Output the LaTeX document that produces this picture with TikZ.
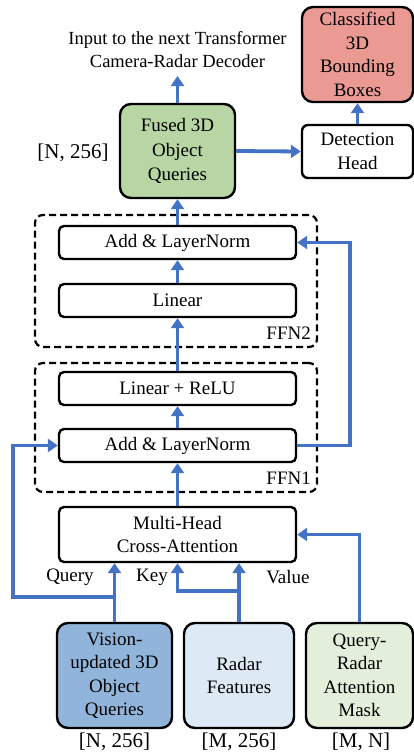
\documentclass[tikz,border=0pt]{standalone}
\usepackage{fontspec}
\setmainfont{Liberation Serif}
\usetikzlibrary{arrows.meta}
\definecolor{flowblue}{RGB}{68,114,196}
\definecolor{fusedgreen}{RGB}{184,214,164}
\definecolor{boxpink}{RGB}{234,154,147}
\definecolor{visionblue}{RGB}{145,181,218}
\definecolor{radarblue}{RGB}{221,233,245}
\definecolor{maskgreen}{RGB}{227,239,218}
\tikzset{
  txt/.style={font=\fontsize{19}{23.5}\selectfont, align=center, inner sep=0pt},
  dimtxt/.style={font=\fontsize{21}{24}\selectfont, inner sep=0pt},
  blockbox/.style={draw=black, line width=2.4pt, rounded corners=5pt, fill=white,
    txt, minimum width=237pt, minimum height=33pt},
  bigbox/.style={draw=black, line width=2.4pt, rounded corners=11pt,
    txt, minimum height=105pt},
  groupbox/.style={draw=black, line width=2.2pt, dash pattern=on 7pt off 4pt,
    rounded corners=8pt, inner sep=0pt},
  flow/.style={draw=flowblue, line width=3.8pt,
    -{Triangle[width=13pt,length=10pt]}},
  plainflow/.style={draw=flowblue, line width=3.8pt},
}
\begin{document}
\begin{tikzpicture}[x=1pt,y=-1pt]
\useasboundingbox (0,0) rectangle (414,753);

% dashed FFN groups
\node[groupbox, minimum width=282pt, minimum height=132pt] (ffn2) at (176,281) {};
\node[groupbox, minimum width=282pt, minimum height=129pt] (ffn1) at (176,427.5) {};
\node[txt, anchor=east] (ffn2lbl) at (311,333) {FFN2};
\node[txt, anchor=east] (ffn1lbl) at (311,478) {FFN1};

% decoder blocks
\node[blockbox] (addtop) at (177.5,242.5) {Add \& LayerNorm};
\node[blockbox] (linear) at (177.5,300.5) {Linear};
\node[blockbox] (relu)   at (177.5,388.5) {Linear + ReLU};
\node[blockbox] (addbot) at (177.5,445.5) {Add \& LayerNorm};
\node[blockbox, minimum height=55pt] (mhca) at (177.5,534.5) {Multi-Head\\Cross-Attention};

% output side
\node[bigbox, fill=fusedgreen, minimum width=115pt, minimum height=94pt,
  font=\fontsize{19}{24.5}\selectfont] (fused) at (177.5,151) {Fused 3D\\Object\\Queries};
\node[dimtxt] (fuseddim) at (73,153) {[N, 256]};
\node[bigbox, fill=boxpink, minimum width=111pt, minimum height=95pt] (cls) at (357.5,54.5)
  {Classified\\3D\\Bounding\\Boxes};
\node[blockbox, rounded corners=6pt, minimum width=111pt, minimum height=53pt] (det) at (357.5,151.5)
  {Detection\\Head};
\node[txt, font=\fontsize{18.5}{23}\selectfont] (nextdec) at (177.5,50)
  {Input to the next Transformer\\Camera-Radar Decoder};
\coordinate (nextin) at (177.5,76);

% inputs
\node[bigbox, fill=visionblue, minimum width=115pt] (vision) at (114.5,675.5)
  {Vision-\\updated 3D\\Object\\Queries};
\node[bigbox, fill=radarblue, minimum width=110pt] (radar) at (239,675.5) {Radar\\Features};
\node[bigbox, fill=maskgreen, minimum width=107pt] (mask) at (359.5,675.5)
  {Query-\\Radar\\Attention\\Mask};
\node[dimtxt] (visdim) at (114.5,742) {[N, 256]};
\node[dimtxt] (raddim) at (239,742) {[M, 256]};
\node[dimtxt] (maskdim) at (361,742) {[M, N]};

% attention input labels
\node[txt] (qlbl) at (70,577) {Query};
\node[txt] (klbl) at (152,577) {Key};
\node[txt] (vlbl) at (288,577) {Value};

% routing points
\coordinate (qsplit) at (114.5,597);
\coordinate (qleft)  at (13,597);
\coordinate (ksplit) at (239,591);
\coordinate (skip)   at (350,340);

% query, key, value
\draw[flow] (vision.north) -- (mhca.south -| vision.north);
\draw[flow] (qsplit) -- (qleft) |- (addbot.west);
\draw[flow] (radar.north) -- (mhca.south -| radar.north);
\draw[flow] (ksplit) -| (mhca.south);
\draw[flow] (mask.north) |- (mhca.east);

% main stack
\draw[flow] (mhca.north) -- (addbot.south);
\draw[flow] (addbot.north) -- (relu.south);
\draw[flow] (relu.north) -- (linear.south);
\draw[flow] (linear.north) -- (addtop.south);
\draw[flow] (addbot.east) -| (skip) |- (addtop.east);
\draw[flow] (addtop.north) -- (fused.south);

% outputs
\draw[flow] (fused.north) -- (nextin);
\draw[flow] (fused.east) -- (det.west);
\draw[flow] (det.north) -- (cls.south);
\end{tikzpicture}
\end{document}
